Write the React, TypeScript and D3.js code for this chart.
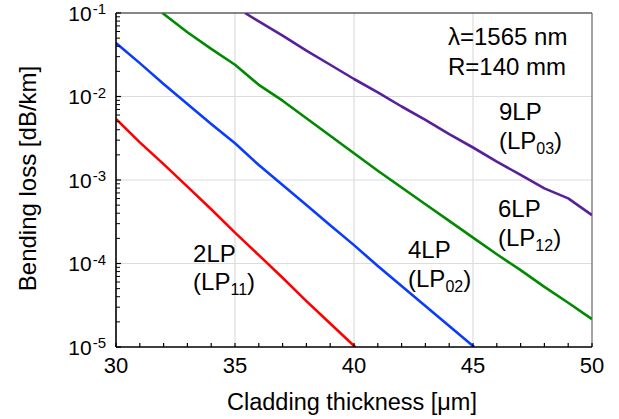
import React from "react";
import * as d3 from "d3";

const W = 619;
const H = 419;

// Data: bending loss [dB/km] vs cladding thickness [um]
const lp11X = [30, 31, 32, 33, 34, 35, 36, 37, 38, 39, 40.05];
const lp11Y = [5.37e-3, 2.82e-3, 1.55e-3, 8.32e-4, 4.47e-4, 2.34e-4, 1.26e-4, 6.76e-5, 3.55e-5, 1.91e-5, 1.0e-5];

const lp02X = [30, 31, 32, 33, 34, 35, 36, 37, 38, 39, 40, 41, 42, 43, 44, 45.05];
const lp02Y = [4.37e-2, 2.51e-2, 1.41e-2, 8.13e-3, 4.68e-3, 2.75e-3, 1.51e-3, 8.71e-4, 5.01e-4, 2.88e-4, 1.66e-4, 9.33e-5, 5.37e-5, 3.09e-5, 1.78e-5, 1.0e-5];

const lp12X = [31.95, 33, 34, 35, 36, 37, 38, 39, 40, 41, 42, 43, 44, 45, 46, 47, 48, 49, 50];
const lp12Y = [1.0e-1, 5.89e-2, 3.72e-2, 2.4e-2, 1.38e-2, 8.91e-3, 5.5e-3, 3.39e-3, 2.09e-3, 1.29e-3, 8.13e-4, 5.13e-4, 3.24e-4, 2.04e-4, 1.29e-4, 8.32e-5, 5.25e-5, 3.39e-5, 2.16e-5];

const lp03X = [35.42, 36, 37, 38, 39, 40, 41, 42, 43, 44, 45, 46, 47, 48, 49, 50];
const lp03Y = [1.0e-1, 7.94e-2, 5.37e-2, 3.55e-2, 2.4e-2, 1.62e-2, 1.12e-2, 7.59e-3, 5.25e-3, 3.55e-3, 2.45e-3, 1.66e-3, 1.15e-3, 7.94e-4, 6.03e-4, 3.8e-4];

const xTicks = [30, 35, 40, 45, 50];
const xMinor = [30, 31, 32, 33, 34, 35, 36, 37, 38, 39, 40, 41, 42, 43, 44, 45, 46, 47, 48, 49, 50];
const yExps = [-1, -2, -3, -4, -5];

const series = [
  { xs: lp11X, ys: lp11Y, color: "#ff0000" },
  { xs: lp02X, ys: lp02Y, color: "#0a3cff" },
  { xs: lp12X, ys: lp12Y, color: "#008a00" },
  { xs: lp03X, ys: lp03Y, color: "#56209c" },
];

const modeNames = ["2LP", "4LP", "6LP", "9LP"];
const modeSubs = ["11", "02", "12", "03"];
// label anchor positions in data coordinates
const modeLabelX = [33.24, 42.27, 46.05, 46.09];
const modeLabelYTop = [1.05e-4, 1.16e-4, 3.6e-4, 5.24e-3];
const modeLabelYBot = [4.8e-5, 5.2e-5, 1.62e-4, 2.35e-3];

const FONT = "'Liberation Sans', Arial, Helvetica, sans-serif";

export default function App() {
  const left = 116, right = 592, top = 13, bottom = 347;
  const x = d3.scaleLinear().domain([30, 50]).range([left, right]);
  const y = d3.scaleLog().domain([1e-5, 1e-1]).range([bottom, top]);

  const line = d3
    .line<[number, number]>()
    .x((d) => x(d[0]))
    .y((d) => y(d[1]));

  const minorY: number[] = [];
  for (let e = -5; e < -1; e++) {
    for (let m = 2; m <= 9; m++) minorY.push(m * Math.pow(10, e));
  }

  return (
    <svg
      width={W}
      height={H}
      style={{ position: "absolute", left: 0, top: 0, background: "#fff" }}
      fontFamily={FONT}
    >
      <rect x={0} y={0} width={W} height={H} fill="#fff" />
      <defs>
        <clipPath id="plotclip">
          <rect x={left} y={top} width={right - left} height={bottom - top} />
        </clipPath>
      </defs>
      {/* grid */}
      {xTicks.slice(1, -1).map((t) => (
        <line key={"gx" + t} x1={x(t)} x2={x(t)} y1={top} y2={bottom} stroke="#dcdcdc" strokeWidth={1.2} />
      ))}
      {yExps.slice(1, -1).map((e) => (
        <line key={"gy" + e} x1={left} x2={right} y1={y(Math.pow(10, e))} y2={y(Math.pow(10, e))} stroke="#dcdcdc" strokeWidth={1.2} />
      ))}
      {/* frame */}
      <line x1={left} x2={right} y1={top} y2={top} stroke="#111" strokeWidth={1.2} />
      <line x1={right} x2={right} y1={top} y2={bottom} stroke="#666" strokeWidth={1.2} />
      {/* series */}
      <g clipPath="url(#plotclip)">
        {series.map((s, i) => (
          <path
            key={i}
            d={line(s.xs.map((v, j) => [v, s.ys[j]] as [number, number])) || ""}
            fill="none"
            stroke={s.color}
            strokeWidth={2.6}
            strokeLinejoin="round"
          />
        ))}
      </g>
      {/* axes */}
      <line x1={left} x2={left} y1={top} y2={bottom} stroke="#000" strokeWidth={1.6} />
      <line x1={left} x2={right} y1={bottom} y2={bottom} stroke="#000" strokeWidth={1.6} />
      {xMinor.map((t) => (
        <line key={"xt" + t} x1={x(t)} x2={x(t)} y1={bottom} y2={bottom - 4} stroke="#000" strokeWidth={1.2} />
      ))}
      {yExps.map((e) => (
        <line key={"yt" + e} x1={left} x2={left + 5} y1={y(Math.pow(10, e))} y2={y(Math.pow(10, e))} stroke="#000" strokeWidth={1.2} />
      ))}
      {minorY.map((v, i) => (
        <line key={"ym" + i} x1={left} x2={left + 4} y1={y(v)} y2={y(v)} stroke="#000" strokeWidth={1} />
      ))}
      {/* tick labels */}
      {xTicks.map((t) => (
        <text key={"xl" + t} x={x(t)} y={373} fontSize={22} textAnchor="middle" fill="#000">
          {t}
        </text>
      ))}
      {yExps.map((e) => (
        <text key={"yl" + e} x={106} y={y(Math.pow(10, e)) + 7.5} fontSize={21} textAnchor="end" fill="#000">
          10
          <tspan fontSize={15} dx={1} dy={-6.5}>
            {"-" + Math.abs(e)}
          </tspan>
        </text>
      ))}
      {/* axis titles */}
      <text x={352} y={410} fontSize={23.5} textAnchor="middle" fill="#000">
        Cladding thickness [μm]
      </text>
      <text
        transform={`translate(36, 178.5) rotate(-90)`}
        fontSize={24}
        textAnchor="middle"
        fill="#000"
      >
        Bending loss [dB/km]
      </text>
      {/* condition text */}
      <text x={448} y={45} fontSize={24} fill="#000">
        λ=1565 nm
      </text>
      <text x={448} y={75} fontSize={24} fill="#000">
        R=140 mm
      </text>
      {/* mode labels */}
      {modeNames.map((name, i) => (
        <g key={name}>
          <text x={x(modeLabelX[i])} y={y(modeLabelYTop[i])} fontSize={24} fill="#000">
            {name}
          </text>
          <text x={x(modeLabelX[i])} y={y(modeLabelYBot[i])} fontSize={24} fill="#000">
            (LP
            <tspan fontSize={16} dy={5}>
              {modeSubs[i]}
            </tspan>
            <tspan dy={-5}>)</tspan>
          </text>
        </g>
      ))}
    </svg>
  );
}
